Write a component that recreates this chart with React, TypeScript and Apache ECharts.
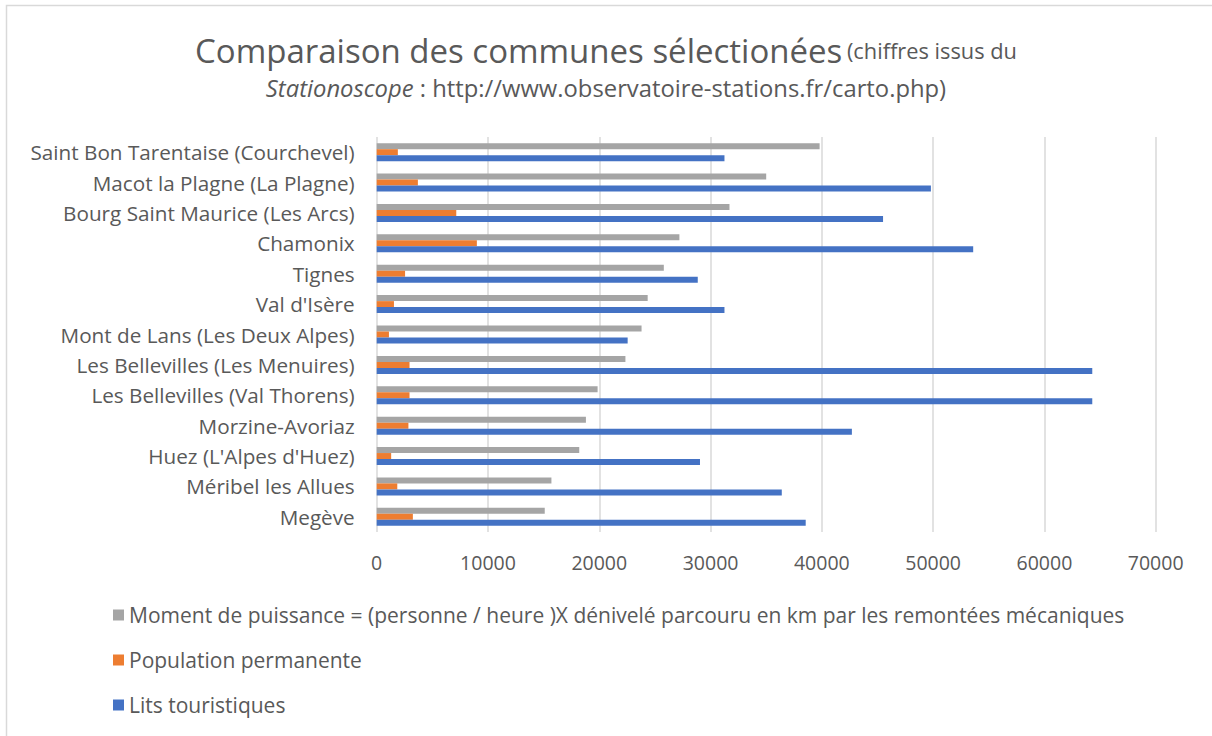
import React, { useEffect, useRef } from "react";
import * as echarts from "echarts";

const categories = [
  "Saint Bon Tarentaise (Courchevel)",
  "Macot la Plagne (La Plagne)",
  "Bourg Saint Maurice (Les Arcs)",
  "Chamonix",
  "Tignes",
  "Val d'Isère",
  "Mont de Lans (Les Deux Alpes)",
  "Les Bellevilles (Les Menuires)",
  "Les Bellevilles (Val Thorens)",
  "Morzine-Avoriaz",
  "Huez (L'Alpes d'Huez)",
  "Méribel les Allues",
  "Megève",
];

const momentPuissance = [39800, 35000, 31700, 27200, 25800, 24350, 23800, 22350, 19850, 18800, 18200, 15700, 15100];
const populationPermanente = [1900, 3700, 7150, 9000, 2550, 1550, 1100, 2950, 2950, 2850, 1300, 1850, 3250];
const litsTouristiques = [31250, 49800, 45500, 53600, 28850, 31250, 22550, 64300, 64300, 42700, 29050, 36400, 38550];

const xTicks = [0, 10000, 20000, 30000, 40000, 50000, 60000, 70000];

const seriesNames = [
  "Moment de puissance = (personne / heure )X dénivelé parcouru en km par les remontées mécaniques",
  "Population permanente",
  "Lits touristiques",
];

const FONT = "Open Sans";
const TXT = "#595959";

export default function App() {
  const ref = useRef<HTMLDivElement>(null);
  useEffect(() => {
    if (!ref.current) return;
    const chart = echarts.init(ref.current, undefined, { renderer: "svg" });
    const mk = (name: string, data: number[], color: string) => ({
      name,
      type: "bar",
      data,
      barWidth: 6,
      barGap: "0%",
      itemStyle: { color },
    });
    chart.setOption({
      animation: false,
      backgroundColor: "#ffffff",
      textStyle: { fontFamily: FONT, color: TXT },
      title: {
        left: "center",
        top: 28,
        padding: 0,
        text:
          "{a|Comparaison des communes sélectionées} {b|(chiffres issus du}\n{i|Stationoscope}{c| : http://www.observatoire-stations.fr/carto.php)}",
        textStyle: {
          fontWeight: "normal",
          rich: {
            a: { fontFamily: FONT, fontSize: 33, fontWeight: "normal", color: TXT, lineHeight: 44 },
            b: { fontFamily: FONT, fontSize: 21.8, fontWeight: "normal", color: TXT, lineHeight: 32 },
            c: { fontFamily: FONT, fontSize: 23.8, fontWeight: "normal", color: TXT, lineHeight: 32 },
            i: { fontFamily: FONT, fontSize: 23.8, fontWeight: "normal", color: TXT, fontStyle: "italic", lineHeight: 32 },
          },
        },
      },
      graphic: [
        {
          type: "rect",
          shape: { x: 6.5, y: 5.5, width: 1220, height: 760 },
          style: { fill: "none", stroke: "#d9d9d9", lineWidth: 1.5 },
          silent: true,
          z: -1,
        },
      ],
      legend: {
        orient: "vertical",
        left: 113,
        top: 604.5,
        padding: 0,
        itemWidth: 11,
        itemHeight: 11,
        itemGap: 24,
        icon: "rect",
        textStyle: { fontFamily: FONT, fontSize: 21, color: TXT, lineHeight: 20 },
        data: seriesNames,
      },
      grid: { left: 376.7, right: 56.3, top: 137, height: 395, containLabel: false },
      xAxis: {
        type: "value",
        min: xTicks[0],
        max: xTicks[xTicks.length - 1],
        interval: 10000,
        axisLine: { show: false },
        axisTick: { show: false },
        splitLine: { show: true, lineStyle: { color: "#d9d9d9", width: 1.5 } },
        axisLabel: {
          fontFamily: FONT,
          fontSize: 19.5,
          color: TXT,
          margin: 20,
          formatter: (v: number) => String(v),
        },
      },
      yAxis: {
        type: "category",
        inverse: true,
        data: categories,
        axisLine: { show: false },
        axisTick: { show: false },
        axisLabel: { fontFamily: FONT, fontSize: 20.7, color: TXT, margin: 22 },
      },
      series: [
        mk(seriesNames[0], momentPuissance, "#A5A5A5"),
        mk(seriesNames[1], populationPermanente, "#ED7D31"),
        mk(seriesNames[2], litsTouristiques, "#4472C4"),
      ],
    });
    return () => chart.dispose();
  }, []);
  return (
    <div
      ref={ref}
      style={{ position: "fixed", left: 0, top: 0, width: 1212, height: 736 }}
    />
  );
}
